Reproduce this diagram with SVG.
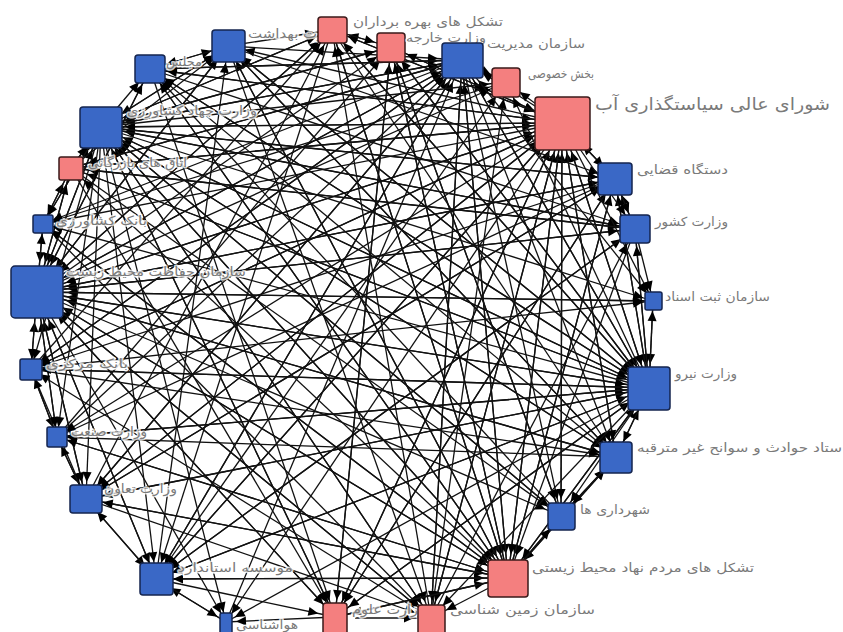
<svg xmlns="http://www.w3.org/2000/svg" width="843" height="632" viewBox="0 0 843 632">
<style>
.e path{fill:none;stroke:#111;stroke-width:1.3}
.xl path{marker-end:url(#mxl)}
.lg path{marker-end:url(#mlg)}
.md path{marker-end:url(#mmd)}
.sm path{marker-end:url(#msm)}
.b{fill:#3a68c6;stroke:#15254f;stroke-width:1.5}
.p{fill:#f47f7f;stroke:#3a1a1a;stroke-width:1.5}
text{font-family:"DejaVu Sans","Noto Sans",sans-serif;font-size:12.5px;fill:#7a7a7a;stroke:#fff;stroke-width:3;stroke-opacity:.8;paint-order:stroke;stroke-linejoin:round}
.big{font-size:17px}
</style>
<defs>
<marker id="mxl" markerUnits="userSpaceOnUse" orient="auto" refX="40" refY="0" markerWidth="10" markerHeight="10" overflow="visible"><path d="M0,-4.5L10,0L0,4.5z" fill="#000"/></marker>
<marker id="mlg" markerUnits="userSpaceOnUse" orient="auto" refX="34" refY="0" markerWidth="10" markerHeight="10" overflow="visible"><path d="M0,-4.5L10,0L0,4.5z" fill="#000"/></marker>
<marker id="mmd" markerUnits="userSpaceOnUse" orient="auto" refX="27" refY="0" markerWidth="10" markerHeight="10" overflow="visible"><path d="M0,-4.5L10,0L0,4.5z" fill="#000"/></marker>
<marker id="msm" markerUnits="userSpaceOnUse" orient="auto" refX="20" refY="0" markerWidth="10" markerHeight="10" overflow="visible"><path d="M0,-4.5L10,0L0,4.5z" fill="#000"/></marker>
</defs>
<rect width="843" height="632" fill="#fff"/>
<g id="connectors" class="e">
<g class="xl">
<path d="M150 69L562 123"/><path d="M332 30L562 123"/><path d="M391 47L562 123"/><path d="M615 179L562 123"/><path d="M649 388L562 123"/><path d="M616 457L562 123"/><path d="M508 578L562 123"/><path d="M335 617L562 123"/><path d="M156 579L562 123"/><path d="M86 499L562 123"/><path d="M37 292L562 123"/><path d="M71 168L562 123"/><path d="M101 127L562 123"/><path d="M31 369L562 123"/><path d="M561 516L562 123"/><path d="M431 618L562 123"/>
<path d="M150 69L37 292"/><path d="M228 46L37 292"/><path d="M462 60L37 292"/><path d="M562 123L37 292"/><path d="M615 179L37 292"/><path d="M635 229L37 292"/><path d="M653 301L37 292"/><path d="M649 388L37 292"/><path d="M616 457L37 292"/><path d="M508 578L37 292"/><path d="M431 618L37 292"/><path d="M156 579L37 292"/><path d="M86 499L37 292"/><path d="M57 437L37 292"/><path d="M31 369L37 292"/><path d="M43 224L37 292"/><path d="M71 168L37 292"/><path d="M101 127L37 292"/><path d="M332 30L37 292"/><path d="M335 617L37 292"/>
</g>
<g class="lg">
<path d="M228 46L101 127"/><path d="M332 30L101 127"/><path d="M391 47L101 127"/><path d="M462 60L101 127"/><path d="M562 123L101 127"/><path d="M635 229L101 127"/><path d="M649 388L101 127"/><path d="M508 578L101 127"/><path d="M431 618L101 127"/><path d="M335 617L101 127"/><path d="M37 292L101 127"/><path d="M71 168L101 127"/><path d="M616 457L101 127"/><path d="M615 179L101 127"/><path d="M43 224L101 127"/><path d="M561 516L101 127"/>
<path d="M150 69L649 388"/><path d="M228 46L649 388"/><path d="M332 30L649 388"/><path d="M462 60L649 388"/><path d="M562 123L649 388"/><path d="M615 179L649 388"/><path d="M635 229L649 388"/><path d="M653 301L649 388"/><path d="M616 457L649 388"/><path d="M508 578L649 388"/><path d="M335 617L649 388"/><path d="M156 579L649 388"/><path d="M86 499L649 388"/><path d="M31 369L649 388"/><path d="M37 292L649 388"/><path d="M101 127L649 388"/><path d="M57 437L649 388"/><path d="M391 47L649 388"/><path d="M71 168L649 388"/>
<path d="M150 69L508 578"/><path d="M228 46L508 578"/><path d="M332 30L508 578"/><path d="M462 60L508 578"/><path d="M562 123L508 578"/><path d="M615 179L508 578"/><path d="M649 388L508 578"/><path d="M616 457L508 578"/><path d="M561 516L508 578"/><path d="M335 617L508 578"/><path d="M156 579L508 578"/><path d="M37 292L508 578"/><path d="M101 127L508 578"/><path d="M86 499L508 578"/><path d="M391 47L508 578"/><path d="M635 229L508 578"/><path d="M57 437L508 578"/><path d="M43 224L508 578"/>
<path d="M150 69L462 60"/><path d="M228 46L462 60"/><path d="M562 123L462 60"/><path d="M649 388L462 60"/><path d="M508 578L462 60"/><path d="M37 292L462 60"/><path d="M101 127L462 60"/><path d="M226 622L462 60"/><path d="M86 499L462 60"/><path d="M156 579L462 60"/><path d="M71 168L462 60"/><path d="M31 369L462 60"/><path d="M57 437L462 60"/><path d="M431 618L462 60"/>
</g>
<g class="md">
<path d="M150 69L228 46"/><path d="M101 127L228 46"/><path d="M37 292L228 46"/><path d="M562 123L228 46"/><path d="M649 388L228 46"/><path d="M508 578L228 46"/><path d="M156 579L228 46"/><path d="M71 168L228 46"/><path d="M616 457L228 46"/>
<path d="M228 46L332 30"/><path d="M391 47L332 30"/><path d="M562 123L332 30"/><path d="M37 292L332 30"/><path d="M649 388L332 30"/><path d="M508 578L332 30"/><path d="M86 499L332 30"/><path d="M101 127L332 30"/><path d="M31 369L332 30"/><path d="M431 618L332 30"/>
<path d="M332 30L391 47"/><path d="M562 123L391 47"/><path d="M37 292L391 47"/><path d="M101 127L391 47"/><path d="M649 388L391 47"/><path d="M508 578L391 47"/><path d="M335 617L391 47"/><path d="M57 437L391 47"/><path d="M561 516L391 47"/>
<path d="M462 60L506 82"/><path d="M562 123L506 82"/><path d="M37 292L506 82"/><path d="M649 388L506 82"/><path d="M101 127L506 82"/><path d="M156 579L506 82"/><path d="M43 224L506 82"/><path d="M431 618L506 82"/>
<path d="M562 123L615 179"/><path d="M635 229L615 179"/><path d="M37 292L615 179"/><path d="M101 127L615 179"/><path d="M649 388L615 179"/><path d="M508 578L615 179"/><path d="M86 499L615 179"/><path d="M228 46L615 179"/><path d="M57 437L615 179"/><path d="M335 617L615 179"/>
<path d="M615 179L635 229"/><path d="M562 123L635 229"/><path d="M37 292L635 229"/><path d="M649 388L635 229"/><path d="M101 127L635 229"/><path d="M156 579L635 229"/><path d="M150 69L635 229"/><path d="M71 168L635 229"/><path d="M431 618L635 229"/>
<path d="M649 388L616 457"/><path d="M562 123L616 457"/><path d="M37 292L616 457"/><path d="M101 127L616 457"/><path d="M508 578L616 457"/><path d="M561 516L616 457"/><path d="M462 60L616 457"/><path d="M228 46L616 457"/><path d="M31 369L616 457"/><path d="M332 30L616 457"/>
<path d="M616 457L561 516"/><path d="M508 578L561 516"/><path d="M562 123L561 516"/><path d="M37 292L561 516"/><path d="M649 388L561 516"/><path d="M101 127L561 516"/><path d="M462 60L561 516"/><path d="M391 47L561 516"/><path d="M71 168L561 516"/>
<path d="M355 618L431 618"/><path d="M508 578L431 618"/><path d="M562 123L431 618"/><path d="M37 292L431 618"/><path d="M649 388L431 618"/><path d="M101 127L431 618"/><path d="M462 60L431 618"/><path d="M228 46L431 618"/><path d="M86 499L431 618"/><path d="M43 224L431 618"/>
<path d="M508 578L335 617"/><path d="M562 123L335 617"/><path d="M37 292L335 617"/><path d="M101 127L335 617"/><path d="M156 579L335 617"/><path d="M649 388L335 617"/><path d="M150 69L335 617"/><path d="M391 47L335 617"/><path d="M71 168L335 617"/><path d="M615 179L335 617"/>
<path d="M86 499L156 579"/><path d="M226 622L156 579"/><path d="M37 292L156 579"/><path d="M101 127L156 579"/><path d="M562 123L156 579"/><path d="M649 388L156 579"/><path d="M508 578L156 579"/><path d="M462 60L156 579"/><path d="M332 30L156 579"/><path d="M635 229L156 579"/>
<path d="M57 437L86 499"/><path d="M156 579L86 499"/><path d="M37 292L86 499"/><path d="M101 127L86 499"/><path d="M562 123L86 499"/><path d="M649 388L86 499"/><path d="M508 578L86 499"/><path d="M462 60L86 499"/><path d="M615 179L86 499"/><path d="M31 369L86 499"/>
<path d="M228 46L150 69"/><path d="M101 127L150 69"/><path d="M37 292L150 69"/><path d="M562 123L150 69"/><path d="M649 388L150 69"/><path d="M508 578L150 69"/><path d="M462 60L150 69"/><path d="M616 457L150 69"/><path d="M561 516L150 69"/>
<path d="M101 127L71 168"/><path d="M43 224L71 168"/><path d="M37 292L71 168"/><path d="M562 123L71 168"/><path d="M649 388L71 168"/><path d="M462 60L71 168"/><path d="M635 229L71 168"/><path d="M508 578L71 168"/>
</g>
<g class="sm">
<path d="M635 229L653 301"/><path d="M649 388L653 301"/><path d="M37 292L653 301"/><path d="M562 123L653 301"/><path d="M101 127L653 301"/><path d="M462 60L653 301"/><path d="M31 369L653 301"/>
<path d="M156 579L226 622"/><path d="M335 617L226 622"/><path d="M37 292L226 622"/><path d="M562 123L226 622"/><path d="M101 127L226 622"/><path d="M649 388L226 622"/>
<path d="M86 499L57 437"/><path d="M31 369L57 437"/><path d="M37 292L57 437"/><path d="M562 123L57 437"/><path d="M649 388L57 437"/><path d="M101 127L57 437"/><path d="M508 578L57 437"/><path d="M616 457L57 437"/>
<path d="M57 437L31 369"/><path d="M37 292L31 369"/><path d="M562 123L31 369"/><path d="M649 388L31 369"/><path d="M101 127L31 369"/><path d="M462 60L31 369"/><path d="M615 179L31 369"/><path d="M431 618L31 369"/>
<path d="M71 168L43 224"/><path d="M37 292L43 224"/><path d="M562 123L43 224"/><path d="M101 127L43 224"/><path d="M649 388L43 224"/><path d="M462 60L43 224"/><path d="M508 578L43 224"/>
</g>
</g>
<g id="nodes">
<g id="n-majles"><rect class="b" x="135" y="55" width="30" height="28" rx="3"/><text x="166" y="66" textLength="36" lengthAdjust="spacingAndGlyphs">مجلس</text></g>
<g id="n-behdasht"><rect class="b" x="212" y="30" width="33" height="32" rx="3"/><text x="248" y="38" textLength="95" lengthAdjust="spacingAndGlyphs">وزارت بهداشت</text></g>
<g id="n-tashakol-bahrebardaran"><rect class="p" x="318" y="17" width="29" height="26" rx="3"/><text x="353" y="26" textLength="150" lengthAdjust="spacingAndGlyphs">تشکل های بهره برداران</text></g>
<g id="n-kharejeh"><rect class="p" x="377" y="33" width="28" height="29" rx="3"/><text x="406" y="42" textLength="80" lengthAdjust="spacingAndGlyphs">وزارت خارجه</text></g>
<g id="n-modiriat"><rect class="b" x="442" y="43" width="41" height="35" rx="3"/><text x="487" y="48" textLength="98" lengthAdjust="spacingAndGlyphs">سازمان مدیریت</text></g>
<g id="n-khosusi"><rect class="p" x="492" y="68" width="28" height="29" rx="3"/><text x="528" y="78" textLength="66" lengthAdjust="spacingAndGlyphs">بخش خصوصی</text></g>
<g id="n-shora"><rect class="p" x="535" y="97" width="55" height="53" rx="3"/><text class="big" x="595" y="110" textLength="235" lengthAdjust="spacingAndGlyphs">شورای عالی سیاستگذاری آب</text></g>
<g id="n-ghazaei"><rect class="b" x="598" y="163" width="34" height="32" rx="3"/><text x="637" y="174" textLength="91" lengthAdjust="spacingAndGlyphs">دستگاه قضایی</text></g>
<g id="n-keshvar"><rect class="b" x="620" y="215" width="30" height="28" rx="3"/><text x="655" y="226" textLength="73" lengthAdjust="spacingAndGlyphs">وزارت کشور</text></g>
<g id="n-sabt"><rect class="b" x="645" y="292" width="17" height="18" rx="2"/><text x="665" y="301" textLength="105" lengthAdjust="spacingAndGlyphs">سازمان ثبت اسناد</text></g>
<g id="n-niroo"><rect class="b" x="628" y="367" width="42" height="43" rx="3"/><text x="675" y="378" textLength="62" lengthAdjust="spacingAndGlyphs">وزارت نیرو</text></g>
<g id="n-setad"><rect class="b" x="600" y="442" width="32" height="31" rx="3"/><text x="637" y="452" textLength="205" lengthAdjust="spacingAndGlyphs">ستاد حوادث و سوانح غیر مترقبه</text></g>
<g id="n-shahrdari"><rect class="b" x="548" y="503" width="27" height="27" rx="3"/><text x="580" y="514" textLength="70" lengthAdjust="spacingAndGlyphs">شهرداری ها</text></g>
<g id="n-ngo"><rect class="p" x="488" y="560" width="40" height="37" rx="3"/><text x="532" y="572" textLength="222" lengthAdjust="spacingAndGlyphs">تشکل های مردم نهاد محیط زیستی</text></g>
<g id="n-oloom"><rect class="p" x="323" y="603" width="24" height="32" rx="3"/><text x="352" y="614" textLength="73" lengthAdjust="spacingAndGlyphs">وزارت علوم</text></g>
<g id="n-zamin"><rect class="p" x="418" y="605" width="27" height="30" rx="3"/><text x="450" y="614" textLength="145" lengthAdjust="spacingAndGlyphs">سازمان زمین شناسی</text></g>
<g id="n-havashenasi"><rect class="b" x="220" y="613" width="12" height="22" rx="2"/><text x="236" y="629" textLength="62" lengthAdjust="spacingAndGlyphs">هواشناسی</text></g>
<g id="n-standard"><rect class="b" x="140" y="563" width="33" height="32" rx="3"/><text x="178" y="572" textLength="115" lengthAdjust="spacingAndGlyphs">موسسه استاندارد</text></g>
<g id="n-taavon"><rect class="b" x="70" y="485" width="32" height="28" rx="3"/><text x="104" y="493" textLength="73" lengthAdjust="spacingAndGlyphs">وزارت تعاون</text></g>
<g id="n-sanat"><rect class="b" x="47" y="427" width="20" height="20" rx="2"/><text x="71" y="436" textLength="76" lengthAdjust="spacingAndGlyphs">وزارت صنعت</text></g>
<g id="n-markazi"><rect class="b" x="20" y="359" width="22" height="21" rx="2"/><text x="46" y="368" textLength="82" lengthAdjust="spacingAndGlyphs">بانک مرکزی</text></g>
<g id="n-mohitzist"><rect class="b" x="11" y="266" width="52" height="52" rx="4"/><text x="66" y="276" textLength="180" lengthAdjust="spacingAndGlyphs">سازمان حفاظت محیط زیست</text></g>
<g id="n-keshavarzi"><rect class="b" x="33" y="215" width="20" height="18" rx="2"/><text x="56" y="225" textLength="91" lengthAdjust="spacingAndGlyphs">بانک کشاورزی</text></g>
<g id="n-bazargani"><rect class="p" x="59" y="157" width="24" height="23" rx="2"/><text x="88" y="167" textLength="99" lengthAdjust="spacingAndGlyphs">اتاق های بازرگانی</text></g>
<g id="n-jahad"><rect class="b" x="80" y="107" width="42" height="41" rx="3"/><text x="127" y="115" textLength="130" lengthAdjust="spacingAndGlyphs">وزارت جهاد کشاورزی</text></g>
</g>
</svg>
